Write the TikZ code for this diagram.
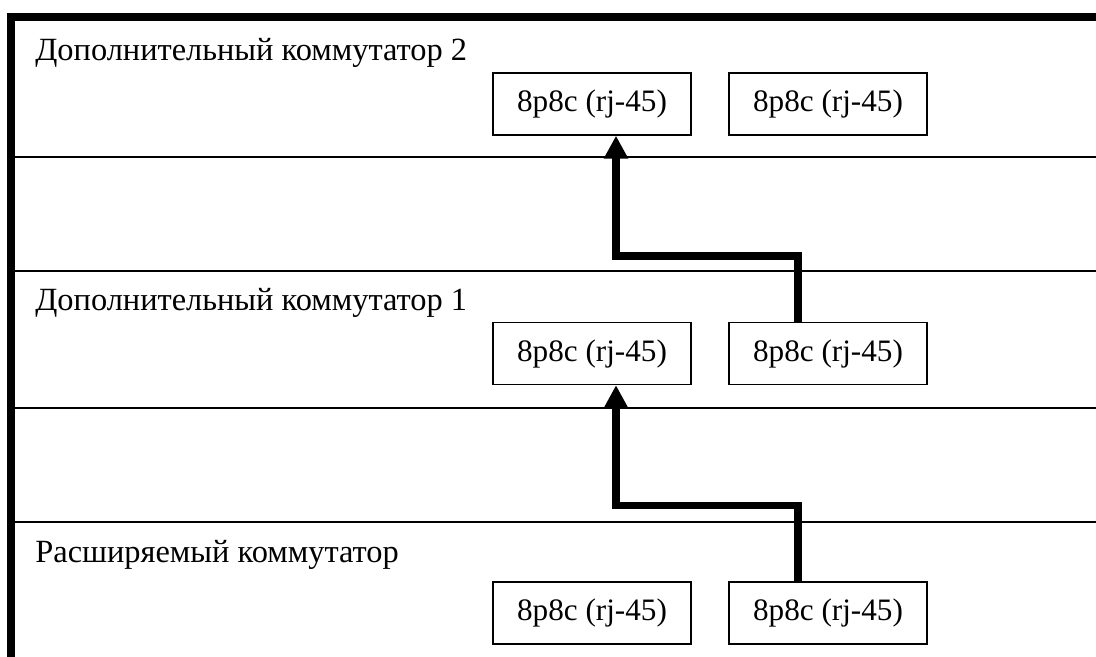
\documentclass[tikz,border=0pt]{standalone}
\usepackage{fontspec}
\setmainfont{Liberation Serif}
\usetikzlibrary{arrows.meta}
\begin{document}
\begin{tikzpicture}[x=0.5pt, y=-0.5pt,
    port/.style={draw, line width=0.7pt, minimum width=99pt, minimum height=31pt, inner sep=0pt, font=\fontsize{15.6}{18}\selectfont},
    title/.style={anchor=base west, inner sep=0pt, font=\fontsize{16.2}{19}\selectfont},
    lane/.style={line width=0.7pt},
    link/.style={line width=3.8pt, -{Triangle[width=11.5pt,length=11.5pt]}}]
    \useasboundingbox (0,0) rectangle (1096,657);
    \draw [line width=4pt] (1096,17.5) -- (11,17.5) -- (11,657);
    \foreach \y in {157,271,408,522}
      \draw [lane] (11,\y) -- (1096,\y);
    \node [title] (swtwo) at (35,61) {Дополнительный коммутатор 2};
    \node [title] (swone) at (35,311) {Дополнительный коммутатор 1};
    \node [title] (swmain) at (35,562) {Расширяемый коммутатор};
    \node [port] (portAi) at (592,104) {8p8c (rj-45)};
    \node [port] (portBi) at (828,104) {8p8c (rj-45)};
    \node [port] (portAii) at (592,353.5) {8p8c (rj-45)};
    \node [port] (portBii) at (828,353.5) {8p8c (rj-45)};
    \node [port] (portAiii) at (592,613) {8p8c (rj-45)};
    \node [port] (portBiii) at (828,613) {8p8c (rj-45)};
    \draw [link] ([xshift=-15pt]portBii.north) --++ (0,33pt) -| ([xshift=12pt]portAi.south);
    \draw [link] ([xshift=-15pt]portBiii.north) --++ (0,38pt) -| ([xshift=12pt]portAii.south);
  \end{tikzpicture}
\end{document}
